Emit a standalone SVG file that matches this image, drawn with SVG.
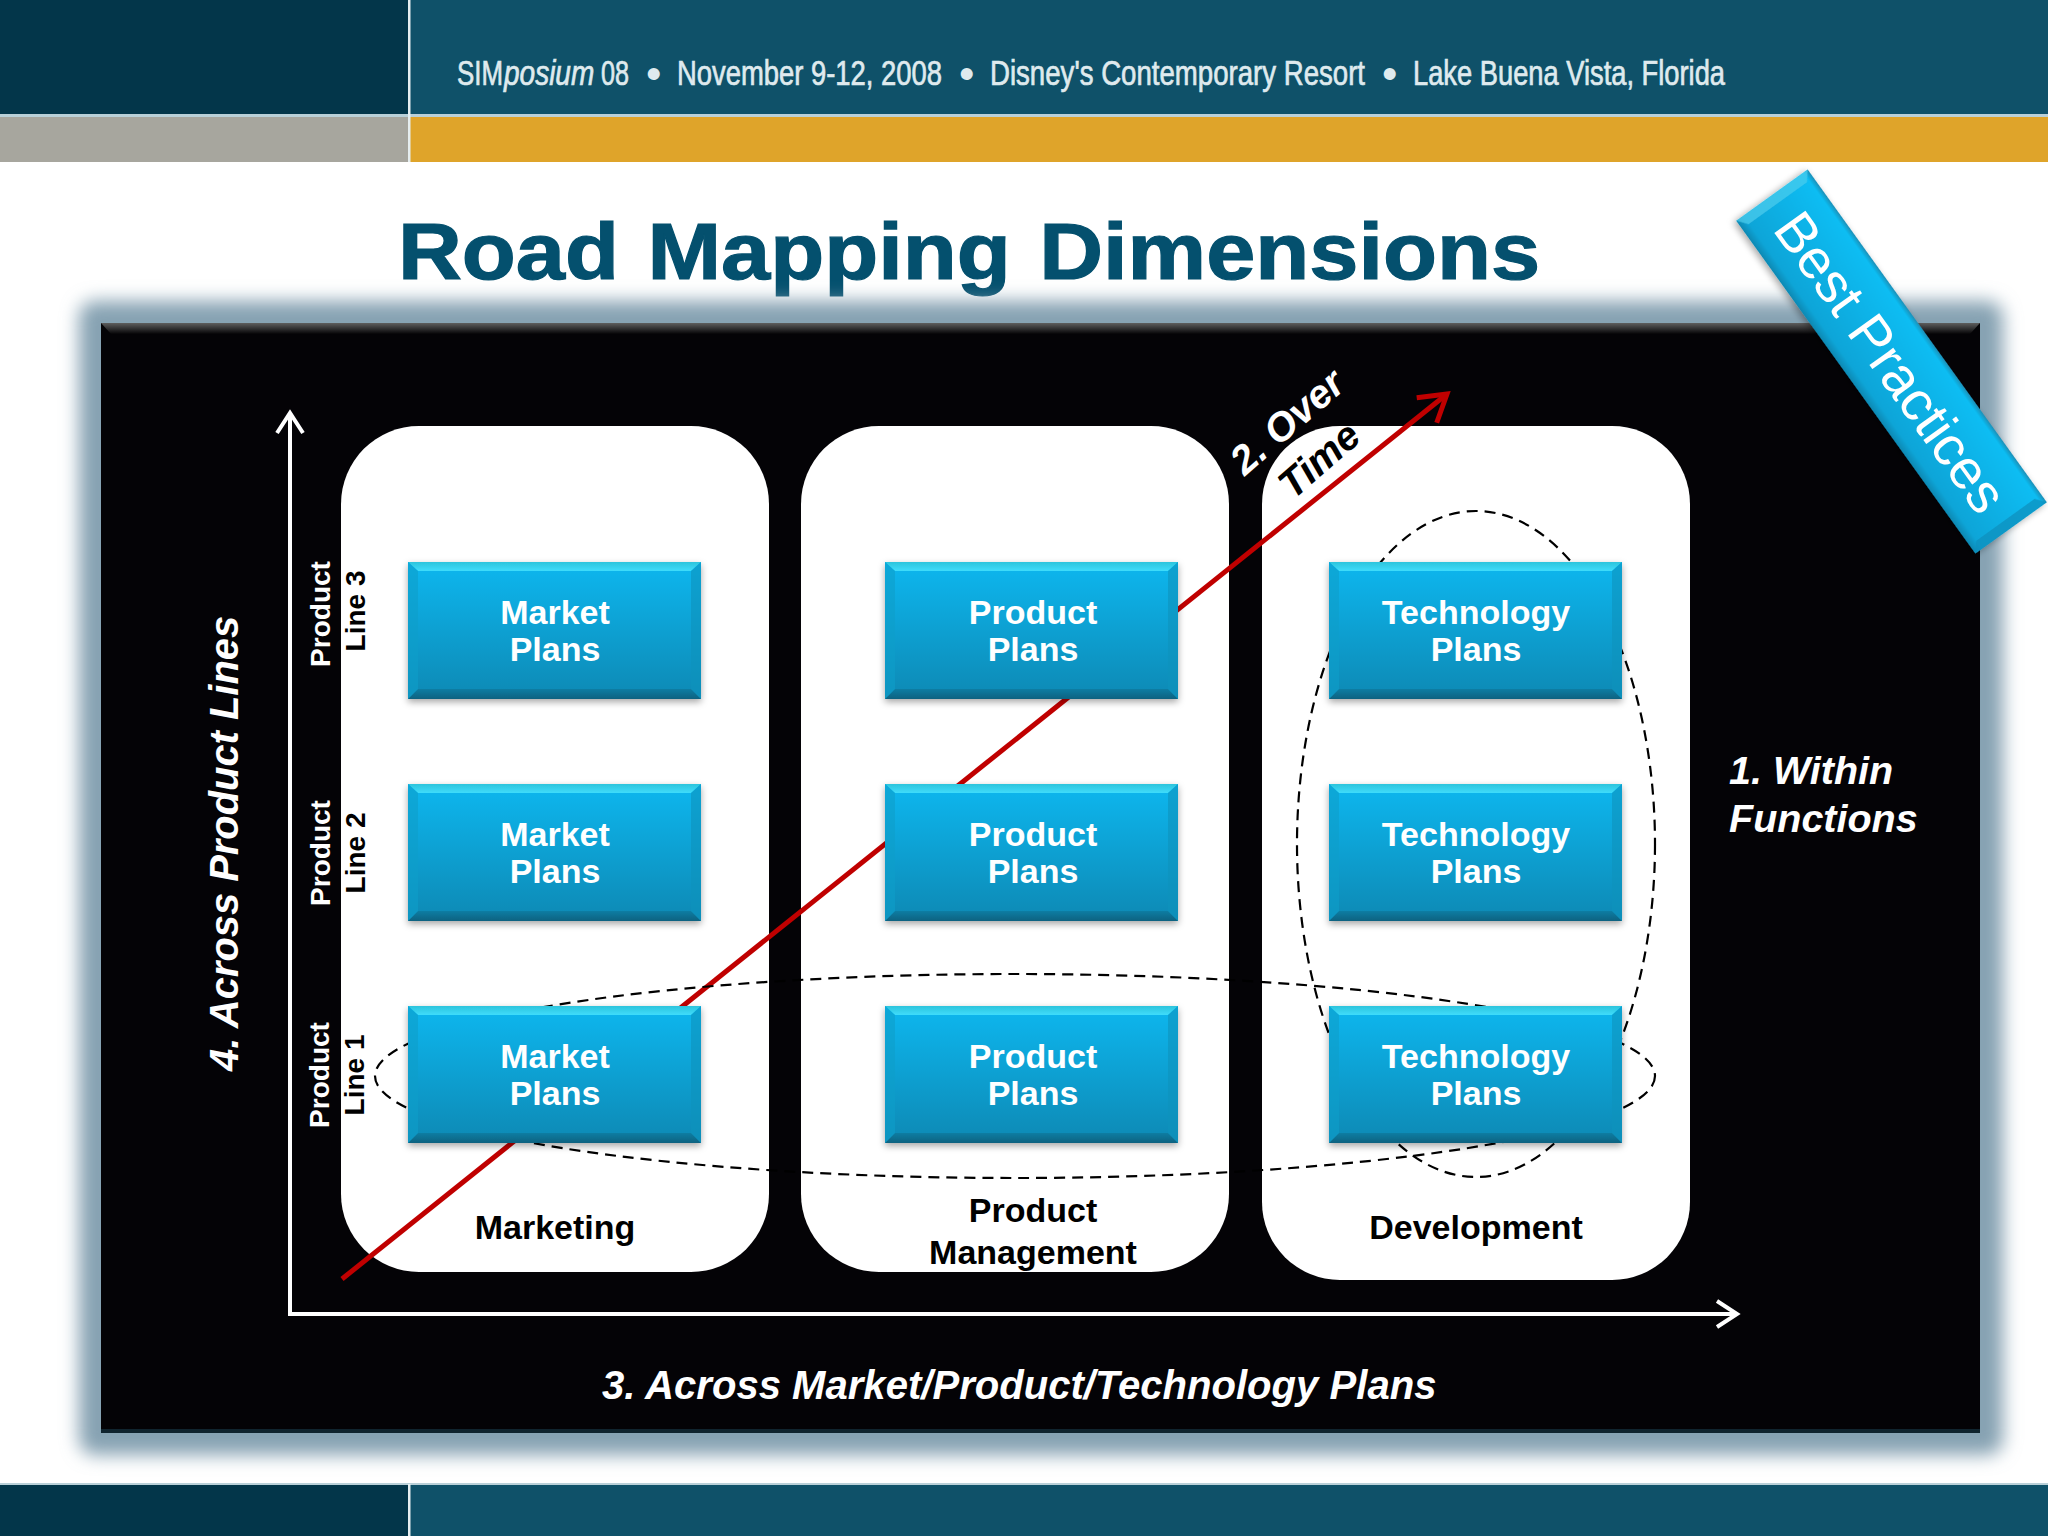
<svg xmlns="http://www.w3.org/2000/svg" width="2048" height="1536" viewBox="0 0 2048 1536">
<style>
text{font-family:"Liberation Sans",Arial,sans-serif}
.hd{fill:#dfeaee;font-size:35px;stroke:#dfeaee;stroke-width:.7}
.bu{fill:#dfeaee;font-size:44px}
.bx{fill:#fff;font-size:34px;font-weight:700;text-anchor:middle}
.cl{fill:#000;font-size:34px;font-weight:700;text-anchor:middle}
.pl{font-size:28px;font-weight:700;text-anchor:middle}
.it{fill:#fff;font-size:39.5px;font-weight:700;font-style:italic}
.col{fill:#fff}
.ell{fill:none;stroke:#000;stroke-width:2.2;stroke-dasharray:11 7}
</style>
<defs>
<linearGradient id="face" x1="0" y1="0" x2="0" y2="1"><stop offset="0" stop-color="#07b7ef"/><stop offset="1" stop-color="#0789b4"/></linearGradient>
<linearGradient id="topb" x1="0" y1="0" x2="0" y2="1"><stop offset="0" stop-color="#2cc4dc"/><stop offset="1" stop-color="#3fdcfb"/></linearGradient>
<linearGradient id="botb" x1="0" y1="0" x2="0" y2="1"><stop offset="0" stop-color="#0a7da3"/><stop offset="1" stop-color="#0e6280"/></linearGradient>
<linearGradient id="sheen" x1="0" y1="0" x2="0" y2="1"><stop offset="0" stop-color="#5e5e5e"/><stop offset="1" stop-color="#050406"/></linearGradient>
<linearGradient id="bnr" x1="0" y1="0" x2="0" y2="1"><stop offset="0" stop-color="#1f8fb6"/><stop offset=".06" stop-color="#08bdf3"/><stop offset=".9" stop-color="#0ba5d8"/><stop offset="1" stop-color="#0c88b2"/></linearGradient>
<filter id="halo" x="-10%" y="-10%" width="120%" height="120%"><feGaussianBlur stdDeviation="9"/></filter>
<filter id="sh" x="-10%" y="-10%" width="120%" height="125%"><feDropShadow dx="0" dy="3" stdDeviation="3.5" flood-color="#000" flood-opacity=".35"/></filter>
<marker id="aw" markerUnits="userSpaceOnUse" markerWidth="30" markerHeight="34" refX="24" refY="15" orient="auto" overflow="visible"><path d="M4,2 L24,15 L4,28" fill="none" stroke="#fff" stroke-width="4"/></marker>
<marker id="ar" markerUnits="userSpaceOnUse" markerWidth="34" markerHeight="40" refX="28" refY="18" orient="auto" overflow="visible"><path d="M2,2 L28,18 L2,34" fill="none" stroke="#c00000" stroke-width="5"/></marker>
<g id="box">
<rect width="293" height="137" fill="url(#face)"/>
<polygon points="0,0 293,0 283,9 10,9" fill="url(#topb)"/>
<polygon points="0,137 293,137 283,127 10,127" fill="url(#botb)"/>
<polygon points="0,0 10,9 10,127 0,137" fill="#0a9ec9" opacity=".6"/>
<polygon points="293,0 283,9 283,127 293,137" fill="#0a93bd" opacity=".6"/>
</g>
</defs>

<rect width="2048" height="1536" fill="#fff"/>
<g id="header">
<rect x="0" y="0" width="409" height="114" fill="#03364a"/>
<rect x="409" y="0" width="1639" height="114" fill="#0f5169"/>
<rect x="0" y="114" width="2048" height="3" fill="#b9d0d8"/>
<rect x="0" y="117" width="409" height="45" fill="#a7a69e"/>
<rect x="409" y="117" width="1639" height="45" fill="#dfa42a"/>
<rect x="408" y="0" width="2.5" height="162" fill="#e6eef0"/>
<text class="hd" transform="translate(457,85) scale(.74,1)">SIM</text>
<text class="hd" transform="translate(504,85) scale(.8,1)" font-style="italic">posium</text>
<text class="hd" transform="translate(601,85) scale(.72,1)">08</text>
<text class="bu" x="646" y="89">•</text>
<text class="hd" transform="translate(677,85) scale(.783,1)">November 9-12, 2008</text>
<text class="bu" x="959" y="89">•</text>
<text class="hd" transform="translate(990,85) scale(.789,1)">Disney's Contemporary Resort</text>
<text class="bu" x="1382" y="89">•</text>
<text class="hd" transform="translate(1413,85) scale(.78,1)">Lake Buena Vista, Florida</text>
</g>
<g id="footer">
<rect x="0" y="1484" width="409" height="52" fill="#03364a"/>
<rect x="409" y="1484" width="1639" height="52" fill="#0f5169"/>
<rect x="0" y="1483" width="2048" height="2" fill="#b9d0d8"/>
<rect x="408" y="1484" width="2.5" height="52" fill="#e6eef0"/>
</g>
<text id="title" transform="translate(398,279) scale(1.105,1)" font-size="80" font-weight="700" fill="#04506e" stroke="#04506e" stroke-width="1.2" word-spacing="3.5">Road Mapping Dimensions</text>

<g id="panel">
<rect x="79" y="301" width="1924" height="1154" rx="16" fill="#86a2b2" filter="url(#halo)"/>
<rect x="101" y="323" width="1879" height="1110" fill="#040306"/>
<polygon points="101,323 1980,323 1970,334 111,334" fill="url(#sheen)"/>
<rect x="101" y="1429" width="1879" height="4" fill="#10242e"/>
</g>

<g id="col-marketing"><rect class="col" x="341" y="426" width="428" height="846" rx="78"/></g>
<g id="col-product"><rect class="col" x="801" y="426" width="428" height="846" rx="78"/></g>
<g id="col-development"><rect class="col" x="1262" y="426" width="428" height="854" rx="78"/></g>

<g id="connectors">
<path d="M342,1279 L1447,394" fill="none" stroke="#c00000" stroke-width="5" marker-end="url(#ar)"/>
<path d="M290,1314 L290,413" fill="none" stroke="#fff" stroke-width="4" marker-end="url(#aw)"/>
<path d="M288,1314 L1737,1314" fill="none" stroke="#fff" stroke-width="4" marker-end="url(#aw)"/>
<ellipse class="ell" cx="1015" cy="1076" rx="640" ry="102"/>
<ellipse class="ell" cx="1476" cy="844" rx="179" ry="333"/>
</g>

<g id="mp3"><use href="#box" x="408" y="562" filter="url(#sh)"/><text class="bx" x="555" y="624">Market</text><text class="bx" x="555" y="661">Plans</text></g>
<g id="mp2"><use href="#box" x="408" y="784" filter="url(#sh)"/><text class="bx" x="555" y="846">Market</text><text class="bx" x="555" y="883">Plans</text></g>
<g id="mp1"><use href="#box" x="408" y="1006" filter="url(#sh)"/><text class="bx" x="555" y="1068">Market</text><text class="bx" x="555" y="1105">Plans</text></g>
<g id="pp3"><use href="#box" x="885" y="562" filter="url(#sh)"/><text class="bx" x="1033" y="624">Product</text><text class="bx" x="1033" y="661">Plans</text></g>
<g id="pp2"><use href="#box" x="885" y="784" filter="url(#sh)"/><text class="bx" x="1033" y="846">Product</text><text class="bx" x="1033" y="883">Plans</text></g>
<g id="pp1"><use href="#box" x="885" y="1006" filter="url(#sh)"/><text class="bx" x="1033" y="1068">Product</text><text class="bx" x="1033" y="1105">Plans</text></g>
<g id="tp3"><use href="#box" x="1329" y="562" filter="url(#sh)"/><text class="bx" x="1476" y="624">Technology</text><text class="bx" x="1476" y="661">Plans</text></g>
<g id="tp2"><use href="#box" x="1329" y="784" filter="url(#sh)"/><text class="bx" x="1476" y="846">Technology</text><text class="bx" x="1476" y="883">Plans</text></g>
<g id="tp1"><use href="#box" x="1329" y="1006" filter="url(#sh)"/><text class="bx" x="1476" y="1068">Technology</text><text class="bx" x="1476" y="1105">Plans</text></g>

<g id="col-labels">
<text class="cl" x="555" y="1239">Marketing</text>
<text class="cl" x="1033" y="1222">Product</text>
<text class="cl" x="1033" y="1264">Management</text>
<text class="cl" x="1476" y="1239">Development</text>
</g>

<g id="line-labels">
<text class="pl" fill="#fff" transform="translate(330,614) rotate(-90)">Product</text>
<text class="pl" fill="#000" transform="translate(365,611) rotate(-90)">Line 3</text>
<text class="pl" fill="#fff" transform="translate(330,853) rotate(-90)">Product</text>
<text class="pl" fill="#000" transform="translate(365,853) rotate(-90)">Line 2</text>
<text class="pl" fill="#fff" transform="translate(329,1075) rotate(-90)">Product</text>
<text class="pl" fill="#000" transform="translate(364,1075) rotate(-90)">Line 1</text>
</g>

<g id="axis-labels">
<text class="it" transform="translate(238,1071) rotate(-90)" style="font-size:39.9px">4. Across Product Lines</text>
<text class="it" x="602" y="1399" style="font-size:40.1px">3. Across Market/Product/Technology Plans</text>
<text class="it" x="1729" y="784">1. Within</text>
<text class="it" x="1729" y="832">Functions</text>
<text class="it" style="font-size:40px" text-anchor="middle" transform="translate(1296,432) rotate(-41)">2. Over</text>
<text class="it" style="font-size:40px;fill:#000" text-anchor="middle" transform="translate(1328,470) rotate(-41)">Time</text>
</g>

<g id="best-practices" transform="translate(1891.5,361.5) rotate(54.3)">
<g filter="url(#sh)">
<rect x="-205" y="-44" width="410" height="88" fill="url(#bnr)"/>
<polygon points="-205,-44 -195,-36 -195,36 -205,44" fill="#4fcdec" opacity=".7"/>
<polygon points="205,-44 195,-36 195,36 205,44" fill="#0a8fbc" opacity=".7"/>
</g>
<text x="0" y="20" font-size="55.5" fill="#fff" text-anchor="middle">Best Practices</text>
</g>
</svg>
